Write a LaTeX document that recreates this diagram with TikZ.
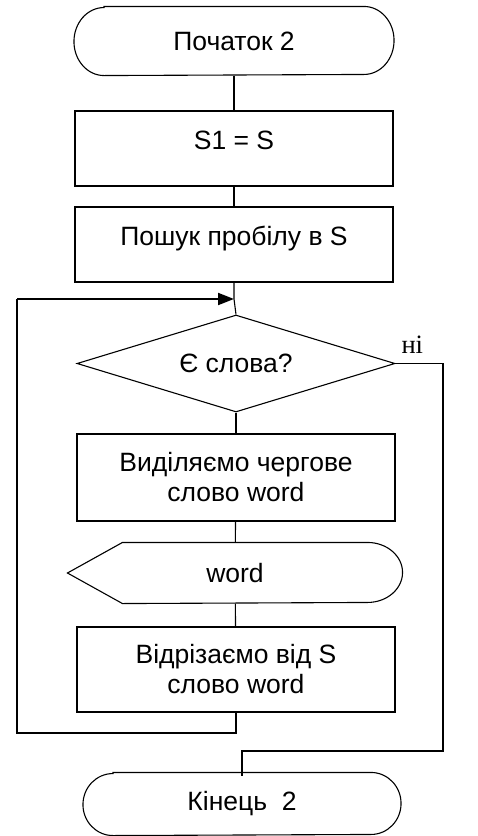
\documentclass[tikz,border=0pt]{standalone}
\usepackage{fontspec}
\setmainfont{Liberation Sans}
\newfontfamily\serifcyr{Liberation Serif}
\usetikzlibrary{calc}
\usetikzlibrary{arrows.meta}
\usetikzlibrary{shapes.geometric}

\begin{document}
\begin{tikzpicture}[x=1pt, y=-1pt, line width=1.1pt,
  font=\fontsize{26.5}{30}\selectfont,
  blk/.style={draw, rectangle, inner sep=0pt, minimum width=318pt, align=center},
  oneline/.style={text height=19pt, text depth=17pt},
  cond/.style={draw, diamond, aspect=3.28, inner sep=0pt, minimum width=318pt, minimum height=97pt},
  bare/.style={rectangle, inner sep=0pt}]
\useasboundingbox (0,0) rectangle (478,836);

\node[bare, minimum width=319pt, minimum height=68pt] (start) at (234,41) {Початок 2};
\draw ([xshift=30pt]start.north west) -- ([xshift=-30pt]start.north east)
  arc[start angle=90, end angle=-90, x radius=30pt, y radius=34pt]
  -- ([xshift=30pt]start.south west)
  arc[start angle=270, end angle=90, x radius=30pt, y radius=34pt] -- cycle;

\node[blk, oneline, minimum height=75pt] (s1) at (234,148.5) {S1 = S};
\node[blk, oneline, minimum height=75pt] (search) at (234,244.5) {Пошук пробілу в S};

\coordinate (join) at (234,299);
\coordinate (top) at (17,299);
\coordinate (back) at (17,733);
\coordinate (noturn) at (443,751);

\node[cond] (dia) at (236,363.5) {Є слова?};
\node[font=\serifcyr\fontsize{26.5}{30}\selectfont, anchor=base west, inner sep=0pt] (nolbl) at (401,353) {ні};

\node[blk, minimum height=87pt] (pick) at (236,477.5) {Виділяємо чергове\\слово word};

\node[bare, minimum width=334pt, minimum height=60pt] (out) at (235,573) {word};
\draw (out.west) -- ([xshift=55pt]out.north west) -- ([xshift=-35pt]out.north east)
  arc[start angle=90, end angle=-90, x radius=35pt, y radius=30pt]
  -- ([xshift=55pt]out.south west) -- cycle;

\node[blk, minimum height=85pt] (cut) at (236,669.5) {Відрізаємо від S\\слово word};

\node[bare, minimum width=317pt, minimum height=62pt] (fin) at (242,804) {Кінець~~2};
\draw ([xshift=30pt]fin.north west) -- ([xshift=-30pt]fin.north east)
  arc[start angle=90, end angle=-90, x radius=30pt, y radius=31pt]
  -- ([xshift=30pt]fin.south west)
  arc[start angle=270, end angle=90, x radius=30pt, y radius=31pt] -- cycle;

\draw (start.south -| s1.north) -- (s1.north);
\draw (s1) -- (search);
\draw (search.south) -- (join) -- (dia.north);
\draw (dia) -- (pick);
\draw (pick) -- (out);
\draw (out) -- (cut);

\draw[line width=1.3pt] (cut.south) -- (cut.south |- back) -- (back) -- (top);
\draw[line width=2pt, -{Triangle[length=16pt, width=12pt]}] (top) -- (join);

\draw[line width=1.3pt] (dia.east) -| (noturn) -| ([yshift=-4pt]fin.north);

\end{tikzpicture}
\end{document}
